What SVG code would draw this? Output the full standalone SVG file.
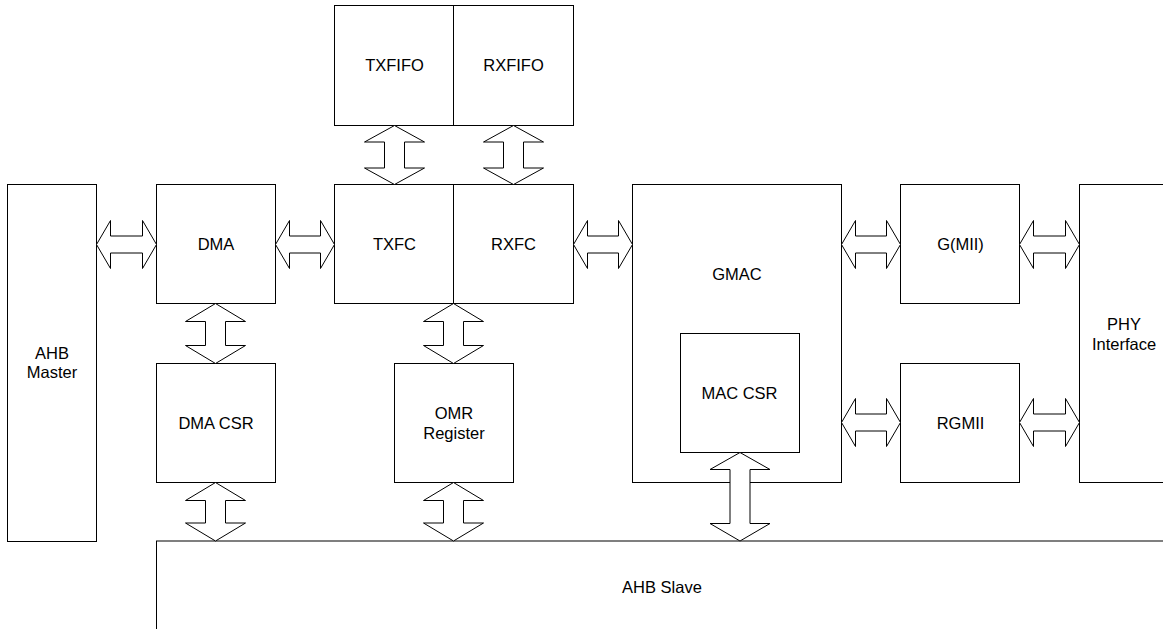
<svg xmlns="http://www.w3.org/2000/svg" width="1163" height="629" viewBox="0 0 1163 629">
<style>
  .box { fill: #ffffff; stroke: #000000; stroke-width: 1; }
  .lbl { font-family: "Liberation Sans", Arial, sans-serif; font-size: 16.5px; fill: #000000; text-anchor: middle; }
  .arr { fill: #ffffff; stroke: #000000; stroke-width: 1; stroke-linejoin: miter; }
</style>
<rect x="0" y="0" width="1163" height="629" fill="#ffffff"/>

<g id="ahb-slave">
  <rect class="box" x="156.5" y="541" width="1020" height="100"/>
  <text class="lbl" x="662" y="593">AHB Slave</text>
</g>
<g id="ahb-master">
  <rect class="box" x="7.5" y="184.5" width="89" height="357"/>
  <text class="lbl" x="52" y="358.5">AHB</text>
  <text class="lbl" x="52" y="378">Master</text>
</g>
<g id="dma">
  <rect class="box" x="156.5" y="184.5" width="119" height="119"/>
  <text class="lbl" x="216" y="250">DMA</text>
</g>
<g id="dma-csr">
  <rect class="box" x="156.5" y="363.5" width="119" height="119"/>
  <text class="lbl" x="216" y="428.5">DMA CSR</text>
</g>
<g id="txfifo">
  <rect class="box" x="334.5" y="5.5" width="119" height="120"/>
  <text class="lbl" x="394.5" y="71">TXFIFO</text>
</g>
<g id="rxfifo">
  <rect class="box" x="453.5" y="5.5" width="120" height="120"/>
  <text class="lbl" x="513.5" y="71">RXFIFO</text>
</g>
<g id="txfc">
  <rect class="box" x="334.5" y="184.5" width="119" height="119"/>
  <text class="lbl" x="394.5" y="250">TXFC</text>
</g>
<g id="rxfc">
  <rect class="box" x="453.5" y="184.5" width="120" height="119"/>
  <text class="lbl" x="513.5" y="250">RXFC</text>
</g>
<g id="omr-register">
  <rect class="box" x="394.5" y="363.5" width="119" height="119"/>
  <text class="lbl" x="454" y="419">OMR</text>
  <text class="lbl" x="454" y="438.5">Register</text>
</g>
<g id="gmac">
  <rect class="box" x="632.5" y="184.5" width="209" height="298"/>
  <text class="lbl" x="737" y="279.5">GMAC</text>
</g>
<g id="mac-csr">
  <rect class="box" x="680.5" y="333.5" width="119" height="119"/>
  <text class="lbl" x="739.5" y="399">MAC CSR</text>
</g>
<g id="gmii">
  <rect class="box" x="900.5" y="184.5" width="119" height="119"/>
  <text class="lbl" x="960.5" y="250">G(MII)</text>
</g>
<g id="rgmii">
  <rect class="box" x="900.5" y="363.5" width="119" height="119"/>
  <text class="lbl" x="960.5" y="428.5">RGMII</text>
</g>
<g id="phy-interface">
  <rect class="box" x="1079.5" y="184.5" width="100" height="298"/>
  <text class="lbl" x="1124" y="329.5">PHY</text>
  <text class="lbl" x="1124" y="349.5">Interface</text>
</g>

<g id="connectors">
  <!-- horizontal double arrows: tip, head 14, half-head 24, half-shaft 8.5 -->
  <path class="arr" d="M96.5,244.5 L110.5,220.5 L110.5,236 L142.5,236 L142.5,220.5 L156.5,244.5 L142.5,268.5 L142.5,253 L110.5,253 L110.5,268.5 Z"/>
  <path class="arr" d="M275.5,244.5 L289.5,220.5 L289.5,236 L320.5,236 L320.5,220.5 L334.5,244.5 L320.5,268.5 L320.5,253 L289.5,253 L289.5,268.5 Z"/>
  <path class="arr" d="M573.5,244.5 L587.5,220.5 L587.5,236 L618.5,236 L618.5,220.5 L632.5,244.5 L618.5,268.5 L618.5,253 L587.5,253 L587.5,268.5 Z"/>
  <path class="arr" d="M841.5,244.5 L855.5,220.5 L855.5,236 L886.5,236 L886.5,220.5 L900.5,244.5 L886.5,268.5 L886.5,253 L855.5,253 L855.5,268.5 Z"/>
  <path class="arr" d="M1019.5,244.5 L1033.5,220.5 L1033.5,236 L1065.5,236 L1065.5,220.5 L1079.5,244.5 L1065.5,268.5 L1065.5,253 L1033.5,253 L1033.5,268.5 Z"/>
  <path class="arr" d="M841.5,422.5 L855.5,398.5 L855.5,414 L886.5,414 L886.5,398.5 L900.5,422.5 L886.5,446.5 L886.5,431 L855.5,431 L855.5,446.5 Z"/>
  <path class="arr" d="M1019.5,422.5 L1033.5,398.5 L1033.5,414 L1065.5,414 L1065.5,398.5 L1079.5,422.5 L1065.5,446.5 L1065.5,431 L1033.5,431 L1033.5,446.5 Z"/>
  <!-- vertical double arrows: tip, head 17, half-head 30, half-shaft 10 -->
  <path class="arr" d="M394.5,125.5 L424.5,142 L404.5,142 L404.5,168 L424.5,168 L394.5,184.5 L364.5,168 L384.5,168 L384.5,142 L364.5,142 Z"/>
  <path class="arr" d="M513.5,125.5 L543.5,142 L523.5,142 L523.5,168 L543.5,168 L513.5,184.5 L483.5,168 L503.5,168 L503.5,142 L483.5,142 Z"/>
  <path class="arr" d="M215.5,303.5 L245.5,321.5 L225.5,321.5 L225.5,345.5 L245.5,345.5 L215.5,363.5 L185.5,345.5 L205.5,345.5 L205.5,321.5 L185.5,321.5 Z"/>
  <path class="arr" d="M453.5,303.5 L483.5,321.5 L463.5,321.5 L463.5,345.5 L483.5,345.5 L453.5,363.5 L423.5,345.5 L443.5,345.5 L443.5,321.5 L423.5,321.5 Z"/>
  <path class="arr" d="M215.5,482.5 L245.5,500.5 L225.5,500.5 L225.5,523 L245.5,523 L215.5,541 L185.5,523 L205.5,523 L205.5,500.5 L185.5,500.5 Z"/>
  <path class="arr" d="M453.5,482.5 L483.5,500.5 L463.5,500.5 L463.5,523 L483.5,523 L453.5,541 L423.5,523 L443.5,523 L443.5,500.5 L423.5,500.5 Z"/>
  <path class="arr" d="M740,452.5 L770,469.5 L750,469.5 L750,523.5 L770,523.5 L740,541 L710,523.5 L730,523.5 L730,469.5 L710,469.5 Z"/>
</g>
</svg>
